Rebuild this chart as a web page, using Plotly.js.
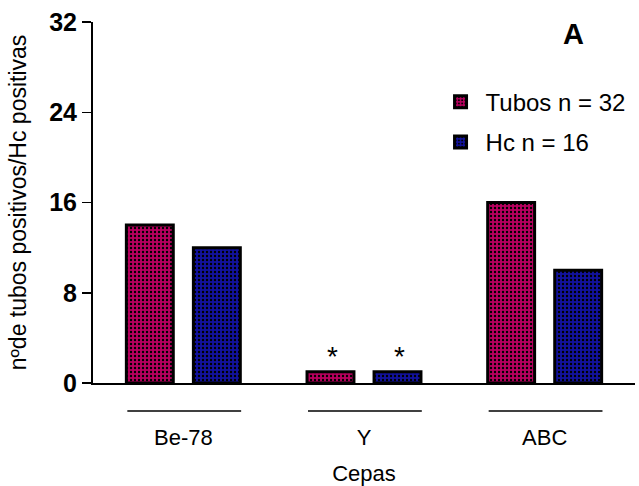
<!DOCTYPE html>
<html>
<head>
<meta charset="utf-8">
<script src="https://cdn.plot.ly/plotly-3.0.1.min.js"></script>
<style>html,body{margin:0;padding:0;background:#fff;}</style>
</head>
<body>
<div id="chart" style="width:639px;height:486px;"></div>
<script>
const categories = ["Be-78", "Y", "ABC"];
const tubosValues = [14, 1, 16];
const hcValues = [12, 1, 10];
const seriesNames = ["Tubos n = 32", "Hc n = 16"];
const yTicks = [0, 8, 16, 24, 32];
const significant = [false, true, false];

const FONT = "Liberation Sans, Arial, sans-serif";

function barTrace(name, vals, base, grp) {
  return {
    type: "bar",
    name: name,
    legendgroup: grp,
    x: categories,
    y: vals,
    marker: {
      color: base,
      line: {color: "#000", width: 3},
      pattern: {shape: ".", fgcolor: "#000", bgcolor: base, size: 4, solidity: 0.28, fillmode: "replace"}
    },
    hoverinfo: "x+y"
  };
}

const traces = [
  barTrace(seriesNames[0], tubosValues, "#b8005e", "g1"),
  barTrace(seriesNames[1], hcValues, "#12129e", "g2")
];

const shapes = categories.map((c, i) => ({
  type: "line", xref: "x", yref: "paper",
  x0: i - 0.31, x1: i + 0.32, y0: -0.0776, y1: -0.0776,
  line: {color: "#000", width: 1.5}
}));

const annotations = [
  {text: "<b>A</b>", xref: "paper", yref: "paper", x: 0.886, y: 0.967,
   xanchor: "center", yanchor: "middle", showarrow: false,
   font: {family: FONT, size: 29, color: "#000"}}
];
categories.forEach((c, i) => {
  if (significant[i]) {
    annotations.push({text: "*", x: c, y: tubosValues[i], xshift: -32, yshift: -2,
      xanchor: "center", yanchor: "bottom", showarrow: false,
      font: {family: FONT, size: 28, color: "#000"}});
    annotations.push({text: "*", x: c, y: hcValues[i], xshift: 35, yshift: -2,
      xanchor: "center", yanchor: "bottom", showarrow: false,
      font: {family: FONT, size: 28, color: "#000"}});
  }
});

const layout = {
  width: 639, height: 486,
  margin: {l: 93, r: 4, t: 22, b: 103},
  paper_bgcolor: "#fff", plot_bgcolor: "#fff",
  barmode: "group", bargap: 0.258, bargroupgap: 0.3,
  showlegend: true,
  legend: {x: 0.632, y: 0.84, xanchor: "left", yanchor: "top",
    font: {family: FONT, size: 24, color: "#000"}, bgcolor: "rgba(0,0,0,0)",
    tracegroupgap: 6, itemwidth: 40},
  xaxis: {
    range: [-0.5, 2.5], showline: true, linecolor: "#000", linewidth: 1.5,
    ticks: "", showgrid: false, zeroline: false,
    ticklabelstandoff: 34,
    tickfont: {family: FONT, size: 22, color: "#000"},
    title: {text: "Cepas", font: {family: FONT, size: 22, color: "#000"}, standoff: 17}
  },
  yaxis: {
    range: [0, 32], tickvals: yTicks, ticktext: yTicks.map(String),
    showline: true, linecolor: "#000", linewidth: 2,
    ticks: "outside", ticklen: 9, tickwidth: 1.5, tickcolor: "#000",
    showgrid: false, zeroline: false,
    tickfont: {family: FONT, size: 25, color: "#000", weight: "bold"},
    title: {text: "nºde tubos positivos/Hc positivas", font: {family: FONT, size: 23, color: "#000"}, standoff: 16}
  },
  shapes: shapes,
  annotations: annotations
};

Plotly.newPlot("chart", traces, layout, {displayModeBar: false, staticPlot: true});
</script>
</body>
</html>
